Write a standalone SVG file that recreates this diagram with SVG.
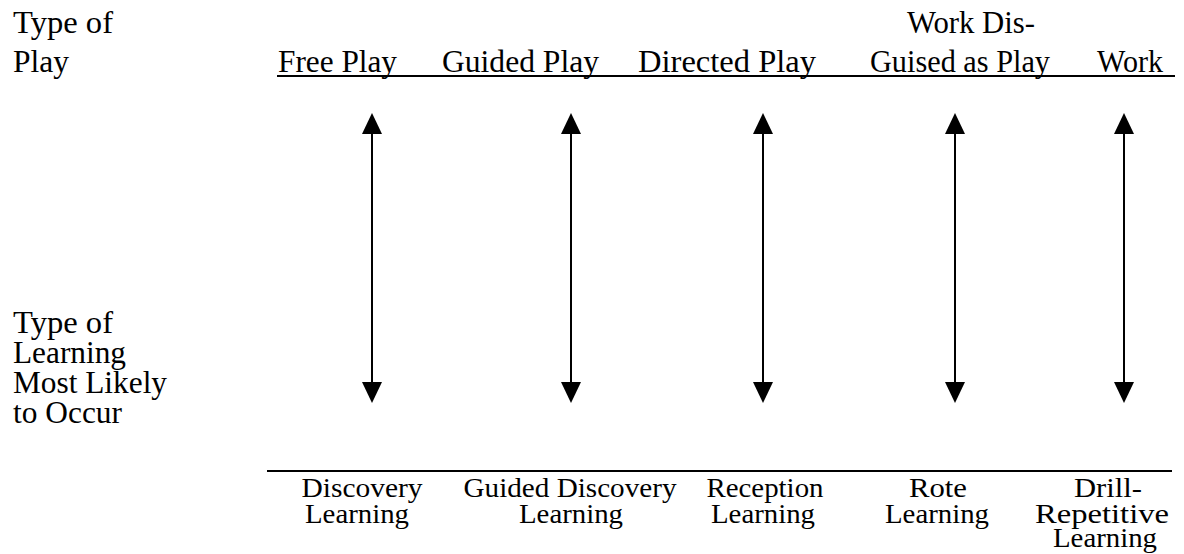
<svg xmlns="http://www.w3.org/2000/svg" width="1184" height="554" viewBox="0 0 1184 554">
  <style>
    text { font-family: "Liberation Serif", "Times New Roman", serif; fill: #000; }
    .lab { font-size: 32px; }
    .side { font-size: 31px; }
    .low { font-size: 27px; text-anchor: middle; }
    .rule { stroke: #000; stroke-width: 2; }
    .link { stroke: #000; stroke-width: 2; fill: none; marker-start: url(#head); marker-end: url(#head); }
  </style>
  <defs>
    <marker id="head" viewBox="0 0 21 20" refX="0" refY="10" markerWidth="21" markerHeight="20" markerUnits="userSpaceOnUse" orient="auto-start-reverse">
      <path d="M0,0 L21,10 L0,20 Z" fill="#000"/>
    </marker>
  </defs>
  <rect width="1184" height="554" fill="#fff"/>

  <!-- row headings -->
  <g id="heading-play">
    <text class="lab" x="13" y="33" textLength="100" lengthAdjust="spacingAndGlyphs">Type of</text>
    <text class="lab" x="13" y="72" textLength="56" lengthAdjust="spacingAndGlyphs">Play</text>
  </g>
  <g id="heading-learning">
    <text class="side" x="13" y="333" textLength="100" lengthAdjust="spacingAndGlyphs">Type of</text>
    <text class="side" x="13" y="363" textLength="113" lengthAdjust="spacingAndGlyphs">Learning</text>
    <text class="side" x="13" y="393" textLength="154" lengthAdjust="spacingAndGlyphs">Most Likely</text>
    <text class="side" x="13" y="423" textLength="109" lengthAdjust="spacingAndGlyphs">to Occur</text>
  </g>

  <!-- horizontal rules -->
  <g id="rules">
    <line class="rule" x1="277" y1="76" x2="1175" y2="76"/>
    <line class="rule" x1="267" y1="471" x2="1172" y2="471"/>
  </g>

  <!-- types of play -->
  <g id="play-free"><text class="lab" x="278" y="72" textLength="119" lengthAdjust="spacingAndGlyphs">Free Play</text></g>
  <g id="play-guided"><text class="lab" x="442" y="72" textLength="157" lengthAdjust="spacingAndGlyphs">Guided Play</text></g>
  <g id="play-directed"><text class="lab" x="638" y="72" textLength="178" lengthAdjust="spacingAndGlyphs">Directed Play</text></g>
  <g id="play-disguised">
    <text class="lab" x="907" y="33" textLength="128" lengthAdjust="spacingAndGlyphs">Work Dis-</text>
    <text class="lab" x="870" y="72" textLength="180" lengthAdjust="spacingAndGlyphs">Guised as Play</text>
  </g>
  <g id="play-work"><text class="lab" x="1097" y="72" textLength="66" lengthAdjust="spacingAndGlyphs">Work</text></g>

  <!-- two-way connectors -->
  <g id="connectors">
    <line class="link" x1="372" y1="134" x2="372" y2="382"/>
    <line class="link" x1="571" y1="134" x2="571" y2="382"/>
    <line class="link" x1="763" y1="134" x2="763" y2="382"/>
    <line class="link" x1="955" y1="134" x2="955" y2="382"/>
    <line class="link" x1="1124" y1="134" x2="1124" y2="382"/>
  </g>

  <!-- types of learning -->
  <g id="learn-discovery">
    <text class="low" x="362" y="497" textLength="121" lengthAdjust="spacingAndGlyphs">Discovery</text>
    <text class="low" x="357" y="523" textLength="104" lengthAdjust="spacingAndGlyphs">Learning</text>
  </g>
  <g id="learn-guided">
    <text class="low" x="570" y="497" textLength="213" lengthAdjust="spacingAndGlyphs">Guided Discovery</text>
    <text class="low" x="571" y="523" textLength="104" lengthAdjust="spacingAndGlyphs">Learning</text>
  </g>
  <g id="learn-reception">
    <text class="low" x="765" y="497" textLength="117" lengthAdjust="spacingAndGlyphs">Reception</text>
    <text class="low" x="763" y="523" textLength="104" lengthAdjust="spacingAndGlyphs">Learning</text>
  </g>
  <g id="learn-rote">
    <text class="low" x="938" y="497" textLength="58" lengthAdjust="spacingAndGlyphs">Rote</text>
    <text class="low" x="937" y="523" textLength="104" lengthAdjust="spacingAndGlyphs">Learning</text>
  </g>
  <g id="learn-drill">
    <text class="low" x="1108" y="497" textLength="68" lengthAdjust="spacingAndGlyphs">Drill-</text>
    <text class="low" x="1102" y="523" textLength="134" lengthAdjust="spacingAndGlyphs">Repetitive</text>
    <text class="low" x="1105" y="547" textLength="104" lengthAdjust="spacingAndGlyphs">Learning</text>
  </g>
</svg>
